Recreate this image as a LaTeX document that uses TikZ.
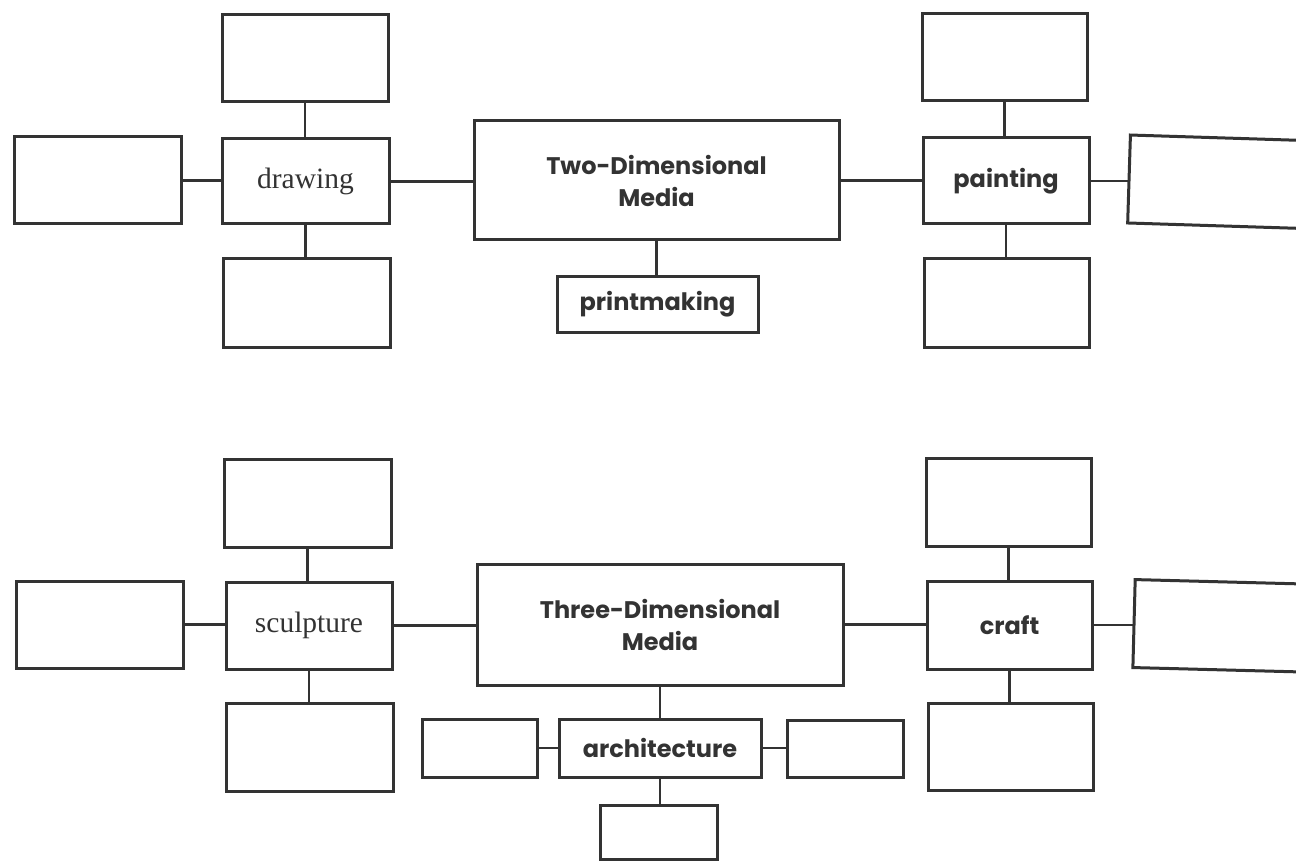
\documentclass[tikz,border=0pt]{standalone}
\usepackage{fontspec}
\setmainfont{Liberation Serif}
\newfontfamily\headfont{Poppins}
\definecolor{ink}{HTML}{333333}
\begin{document}
\begin{tikzpicture}[x=1pt,y=-1pt,
  box/.style={draw=ink,line width=3pt,inner sep=0pt,outer sep=0pt,text=ink},
  serifl/.style={box,font=\fontsize{29.5}{32}\selectfont},
  sansl/.style={box,font=\headfont\bfseries\fontsize{24}{32}\selectfont,align=center},
  link/.style={draw=ink,line width=2.6pt}]
\useasboundingbox (0,0) rectangle (1296,861);
\clip (0,0) rectangle (1296,861);
% ---------- top group ----------
\node[box,minimum width=166pt,minimum height=87pt] (t1) at (305,58.5) {};
\node[box,minimum width=167pt,minimum height=87pt] (l1) at (97.5,180.5) {};
\node[serifl,minimum width=167pt,minimum height=85pt] (drawing) at (305.5,181.5) {drawing};
\node[box,minimum width=167pt,minimum height=88pt] (b1) at (306.5,303) {};
\node[sansl,minimum width=365pt,minimum height=119pt] (two) at (656.5,180.5) {Two-Dimensional\\Media};
\node[sansl,minimum width=201pt,minimum height=56pt] (print) at (657.5,304) {printmaking};
\node[box,minimum width=165pt,minimum height=87pt] (t2) at (1004.5,57.5) {};
\node[sansl,minimum width=166pt,minimum height=86pt] (painting) at (1006,181) {painting};
\node[box,minimum width=165pt,minimum height=88pt] (b2) at (1006.5,303) {};
\node[box,minimum width=191pt,minimum height=88pt,rotate=-1.8] (r1) at (1224.5,182) {};
\draw[link] (t1.south) -- (t1.south |- drawing.north);
\draw[link] (drawing.south) -- (drawing.south |- b1.north);
\draw[link] (l1.east) -- (l1.east -| drawing.west);
\draw[link] (drawing.east) -- (drawing.east -| two.west);
\draw[link] (two.east) -- (two.east -| painting.west);
\draw[link] (two.south) -- (two.south |- print.north);
\draw[link] (t2.south) -- (t2.south |- painting.north);
\draw[link] (painting.south) -- (painting.south |- b2.north);
\draw[link] (painting.east) -- (painting.east -| r1.west);
% ---------- bottom group ----------
\node[box,minimum width=167pt,minimum height=88pt] (t3) at (307.5,503) {};
\node[box,minimum width=167pt,minimum height=87pt] (l3) at (99.5,624.5) {};
\node[serifl,minimum width=166pt,minimum height=87pt] (sculpture) at (309,625.5) {sculpture};
\node[box,minimum width=167pt,minimum height=88pt] (b3) at (309.5,747) {};
\node[sansl,minimum width=366pt,minimum height=121pt] (three) at (660,624.5) {Three-Dimensional\\Media};
\node[sansl,minimum width=202pt,minimum height=58pt] (arch) at (660,748) {architecture};
\node[box,minimum width=115pt,minimum height=58pt] (al) at (479.5,748) {};
\node[box,minimum width=116pt,minimum height=57pt] (ar) at (845,748.5) {};
\node[box,minimum width=117pt,minimum height=54pt] (ab) at (658.5,832) {};
\node[box,minimum width=165pt,minimum height=88pt] (t4) at (1008.5,502) {};
\node[sansl,minimum width=165pt,minimum height=88pt] (craft) at (1009.5,625) {craft};
\node[box,minimum width=165pt,minimum height=87pt] (b4) at (1010.5,746.5) {};
\node[box,minimum width=186pt,minimum height=88pt,rotate=-1.5] (r4) at (1227,626) {};
\draw[link] (t3.south) -- (t3.south |- sculpture.north);
\draw[link] (sculpture.south) -- (sculpture.south |- b3.north);
\draw[link] (l3.east) -- (l3.east -| sculpture.west);
\draw[link] (sculpture.east) -- (sculpture.east -| three.west);
\draw[link] (three.east) -- (three.east -| craft.west);
\draw[link] (three.south) -- (three.south |- arch.north);
\draw[link] (al.east) -- (al.east -| arch.west);
\draw[link] (arch.east) -- (arch.east -| ar.west);
\draw[link] (arch.south) -- (arch.south |- ab.north);
\draw[link] (t4.south) -- (t4.south |- craft.north);
\draw[link] (craft.south) -- (craft.south |- b4.north);
\draw[link] (craft.east) -- (craft.east -| r4.west);
\end{tikzpicture}
\end{document}
